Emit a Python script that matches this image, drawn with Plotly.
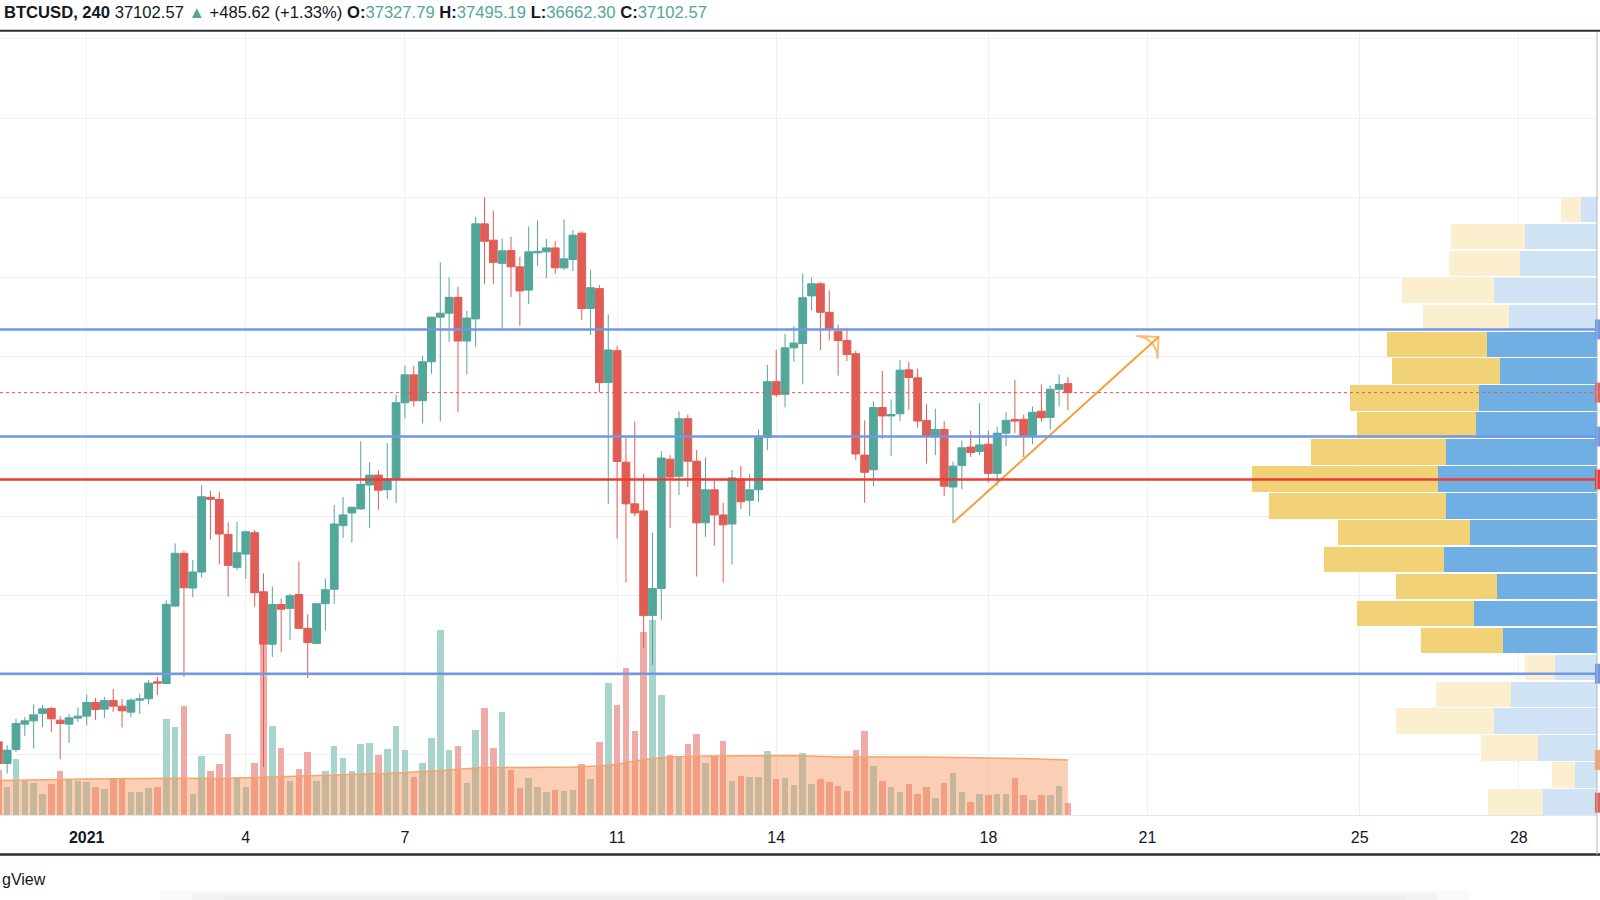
import pandas as pd
import plotly.graph_objects as go

# BTCUSD 4h candles, first bar 2020-12-30 08:00
candle_start = "2020-12-30 08:00"

opens = [28328, 27785, 28137, 28773, 28856, 29042, 29167, 28873, 28773, 28924,
         28974, 29318, 29150, 29369, 29225, 29074, 29376, 29409, 29836, 29796,
         31739, 33064, 32192, 32594, 34472, 34422, 33541, 32712, 33046, 33582,
         32099, 30781, 31779, 31681, 32031, 31181, 30801, 31800, 32161, 33760,
         34080, 34180, 34781, 35030, 34661, 34929, 36848, 37549, 36898, 37878,
         38997, 39098, 39497, 38399, 38954, 41343, 40933, 40350, 40671, 40262,
         39678, 40614, 40639, 40739, 40237, 40450, 41109, 39216, 39716, 37355,
         38157, 35354, 34308, 34130, 31500, 32182, 35430, 35000, 36448, 35380,
         33831, 34661, 34029, 33801, 34929, 34399, 34661, 35978, 37378, 37059,
         38228, 38338, 39533, 39837, 39120, 38640, 38411, 38080, 35533, 35163,
         36727, 36516, 36571, 37675, 37474, 36405, 36020, 36176, 34731, 35274,
         35734, 35623, 35807, 35073, 36083, 36425, 36433, 36020, 36636, 36481,
         37187, 37327.79]
highs = [28421, 28245, 28906, 28956, 29275, 29250, 29208, 28974, 29024, 29193,
         29519, 29434, 29459, 29660, 29409, 29426, 29544, 29879, 29962, 31890,
         33315, 33129, 32896, 34781, 34638, 34613, 33843, 33859, 33632, 33650,
         32561, 32229, 31930, 32051, 32860, 31530, 31820, 32430, 34278, 34479,
         34240, 35880, 35349, 35148, 35829, 37049, 37778, 37778, 38029, 39010,
         40377, 39998, 39759, 39158, 41526, 42009, 41677, 40978, 41021, 40513,
         41277, 41426, 40961, 40908, 41458, 41184, 41154, 40191, 39802, 39065,
         38270, 35978, 36377, 35060, 33579, 35628, 35530, 36629, 36548, 35659,
         35480, 34929, 34329, 35158, 35259, 35060, 36179, 37798, 38177, 38577,
         38778, 40086, 39993, 39882, 39671, 38816, 38733, 38152, 36405, 36885,
         37647, 36931, 37924, 37878, 37712, 36820, 36699, 36387, 35367, 35900,
         36149, 36838, 36149, 36239, 36616, 37418, 36543, 36755, 37308, 37280,
         37557, 37495.19]
lows = [27667, 27533, 28069, 28471, 28162, 28705, 28572, 27893, 28303, 28823,
        28740, 28881, 28924, 29082, 28690, 28941, 29024, 29268, 29502, 29778,
        31722, 29962, 31958, 32461, 33416, 32788, 31973, 32644, 32418, 31722,
        27699, 30462, 30580, 30882, 31150, 29932, 30781, 31131, 31800, 33449,
        33331, 34160, 33700, 34160, 34429, 34329, 36458, 36750, 36330, 37579,
        36380, 38379, 36609, 37559, 38248, 39834, 39829, 38711, 39507, 38778,
        39331, 40287, 39978, 40086, 40179, 40161, 38929, 38552, 37104, 34303,
        33431, 32330, 33999, 30681, 30261, 31400, 33700, 34530, 34728, 32481,
        33479, 33260, 32330, 32780, 34180, 33999, 34359, 35659, 36998, 36729,
        37878, 37308, 39166, 38173, 38411, 37529, 37896, 35412, 34336, 34751,
        35945, 35505, 36387, 36664, 36222, 35319, 35533, 34502, 33831, 34676,
        35485, 35533, 34841, 34769, 35762, 36083, 35485, 35807, 36377, 36176,
        36755, 36662.30]
closes = [27785, 28119, 28790, 28856, 29006, 29157, 28906, 28790, 28931, 28974,
          29318, 29142, 29369, 29225, 29107, 29376, 29409, 29803, 29803, 31782,
          33064, 32199, 32594, 34487, 34422, 33549, 32762, 33079, 33607, 32073,
          30784, 31779, 31661, 32001, 31181, 30821, 31800, 32151, 33801, 34029,
          34220, 34799, 35030, 34650, 34929, 36848, 37549, 36898, 37878, 38997,
          39098, 39497, 38399, 38977, 41343, 40905, 40375, 40664, 40262, 39658,
          40639, 40651, 40739, 40237, 40463, 41056, 39216, 39739, 37355, 38175,
          35374, 34308, 34080, 31500, 32182, 35460, 34980, 36448, 35380, 33831,
          34661, 34029, 33781, 34960, 34359, 34661, 35978, 37378, 37049, 38228,
          38349, 39487, 39837, 39120, 38706, 38411, 38062, 35560, 35100, 36727,
          36516, 36553, 37667, 37481, 36387, 36020, 36176, 34751, 35256, 35716,
          35596, 35789, 35073, 36083, 36405, 36387, 36020, 36609, 36470, 37187,
          37308, 37102.57]
# volume per bar, thousands BTC
volumes = [4.50, 2.77, 5.57, 3.40, 3.23, 2.10, 3.10, 4.43, 3.60, 3.40,
           3.33, 2.77, 2.57, 3.67, 3.60, 2.33, 2.33, 2.67, 2.83, 9.57,
           8.77, 10.93, 2.10, 5.93, 4.43, 5.10, 8.10, 3.77, 2.83, 5.23,
           17.10, 8.94, 6.67, 3.45, 4.64, 6.27, 3.37, 4.44, 6.87, 5.68,
           4.44, 7.15, 7.23, 5.96, 6.59, 8.86, 6.51, 3.77, 5.16, 7.74,
           18.48, 6.47, 6.87, 3.25, 8.46, 10.73, 6.67, 10.33, 4.48, 2.69,
           3.67, 2.85, 2.30, 2.50, 2.38, 2.50, 5.08, 3.57, 7.27, 13.19,
           11.04, 14.70, 8.42, 18.28, 19.55, 12.00, 5.96, 5.88, 7.07, 8.14,
           5.24, 5.88, 7.43, 3.37, 3.89, 3.77, 3.85, 6.43, 3.57, 3.69,
           3.00, 6.17, 3.06, 3.60, 3.35, 2.87, 2.40, 6.46, 8.44, 4.88,
           3.42, 2.76, 2.32, 3.06, 2.07, 2.76, 1.67, 3.17, 4.23, 2.32,
           1.30, 2.07, 2.03, 2.14, 2.14, 3.71, 2.03, 1.52, 2.03, 1.96,
           2.87, 1.23]

# volume moving average, read at a few bars (bar index, thousands BTC)
ma_bar = [0, 10, 20, 25, 30, 35, 40, 45, 50, 55, 60, 65, 68, 70, 72, 74, 76, 80, 90, 95, 105, 112, 116, 121]
ma_vol = [3.45, 3.60, 3.67, 3.65, 3.77, 3.90, 4.05, 4.20, 4.44, 4.76, 4.76, 4.80, 4.90, 5.05, 5.40, 5.65, 5.80,
          5.90, 5.95, 5.80, 5.80, 5.73, 5.65, 5.50]

# visible range volume profile (row price, up volume, down volume)
profile_price = [41700, 41024, 40347, 39671, 38994, 38318, 37641, 36965, 36288, 35612, 34935, 34259,
                 33582, 32906, 32229, 31553, 30876, 30200, 29523, 28847, 28170, 27494, 26817]
profile_up = [2.0, 7.4, 7.1, 9.2, 8.6, 10.0, 10.8, 12.9, 11.9, 13.5, 18.6, 17.7,
              13.2, 12.0, 10.1, 11.7, 8.2, 3.0, 7.5, 9.8, 5.7, 2.3, 5.5]
profile_down = [1.6, 7.2, 7.7, 10.3, 8.8, 11.0, 9.7, 11.8, 12.1, 15.1, 15.9, 15.1,
                12.7, 15.3, 10.0, 12.3, 9.4, 4.2, 8.6, 10.3, 5.9, 2.2, 5.4]

blue_levels = [38690, 36000, 30040]
red_level = 34920
last_price = 37102.57
trend_x = ["2021-01-17 08:00", "2021-01-21 05:00"]
trend_y = [33830, 38500]

date_ticks = ["2021-01-01", "2021-01-04", "2021-01-07", "2021-01-11", "2021-01-14",
              "2021-01-18", "2021-01-21", "2021-01-25", "2021-01-28"]
date_labels = ["<b>2021</b>", "4", "7", "11", "14", "18", "21", "25", "28"]

UP = "#53A69A"
DOWN = "#E05D56"
UP_VOL = "#A7D5CE"
DOWN_VOL = "#F0ABA7"
BLUE = "#6F98E6"
RED = "#EB3B34"
FONT = "Liberation Sans, Arial, sans-serif"

times = pd.date_range(candle_start, periods=len(opens), freq="4h")
vol_colors = [UP_VOL if c >= o else DOWN_VOL for o, c in zip(opens, closes)]

fig = go.Figure()

# soft shadow under the frame
for x0, x1, y0 in [(0.10, 0.92, -0.096), (0.12, 0.90, -0.100), (0.14, 0.88, -0.104)]:
    fig.add_shape(type="rect", xref="paper", yref="paper", x0=x0, x1=x1, y0=-0.12, y1=y0,
                  fillcolor="rgba(0,0,0,0.025)", line=dict(width=0), layer="below")

fig.add_trace(go.Bar(x=times, y=volumes, marker=dict(color=vol_colors, line=dict(width=0)),
                     width=4 * 3600 * 1000 * 0.74, xaxis="x", yaxis="y", hoverinfo="skip"))
fig.add_trace(go.Scatter(x=times[ma_bar], y=ma_vol, mode="lines", line=dict(color="#F4A46F", width=1.5),
                         fill="tozeroy", fillcolor="rgba(242,140,80,0.42)", xaxis="x", yaxis="y",
                         hoverinfo="skip"))

fig.add_trace(go.Candlestick(x=times, open=opens, high=highs, low=lows, close=closes,
                             increasing=dict(line=dict(color=UP, width=1), fillcolor=UP),
                             decreasing=dict(line=dict(color=DOWN, width=1), fillcolor=DOWN),
                             xaxis="x", yaxis="y2", hoverinfo="skip"))

# trend arrow
fig.add_trace(go.Scatter(x=trend_x, y=trend_y, mode="lines+markers",
                         line=dict(color="#F5A03C", width=2),
                         marker=dict(symbol=["circle", "arrow-wide-open"], size=[0, 22], angleref="previous",
                                     color="#F5A03C", line=dict(color="#F5A03C", width=2)),
                         xaxis="x", yaxis="y2", hoverinfo="skip"))

# volume profile: down volume anchored on the right, up volume stacked to its left
in_value_area = [5 <= i <= 16 for i in range(len(profile_price))]
fig.add_trace(go.Bar(y=profile_price, x=profile_down, orientation="h", width=640,
                     marker=dict(color=["#6FAFE3" if v else "#CFE3F5" for v in in_value_area], line=dict(width=0)),
                     xaxis="x2", yaxis="y3", hoverinfo="skip"))
fig.add_trace(go.Bar(y=profile_price, x=profile_up, orientation="h", width=640,
                     marker=dict(color=["#F2D277" if v else "#FBEFD0" for v in in_value_area], line=dict(width=0)),
                     xaxis="x2", yaxis="y3", hoverinfo="skip"))

for lvl in blue_levels:
    fig.add_shape(type="line", xref="paper", x0=0, x1=1, yref="y2", y0=lvl, y1=lvl,
                  line=dict(color=BLUE, width=2.5), layer="above")
fig.add_shape(type="line", xref="paper", x0=0, x1=1, yref="y2", y0=red_level, y1=red_level,
              line=dict(color=RED, width=2.5), layer="above")
fig.add_shape(type="line", xref="paper", x0=0, x1=1, yref="y2", y0=last_price, y1=last_price,
              line=dict(color="#EF5350", width=1, dash="dot"), layer="above")

# cut-off price scale labels at the right edge
for lvl, col in [(blue_levels[0], BLUE), (last_price, "#E0605A"), (blue_levels[1], BLUE),
                 (red_level, RED), (blue_levels[2], BLUE)]:
    fig.add_shape(type="rect", xref="paper", x0=0.9987, x1=1.003, yref="y2", y0=lvl - 250, y1=lvl + 250,
                  fillcolor=col, line=dict(width=0), layer="above")
fig.add_shape(type="rect", xref="paper", x0=0.9987, x1=1.003, yref="y", y0=ma_vol[-1] - 1.0,
              y1=ma_vol[-1] + 1.0, fillcolor="#F4A46F", line=dict(width=0), layer="above")
fig.add_shape(type="rect", xref="paper", x0=0.9987, x1=1.003, yref="y", y0=volumes[-1] - 1.0,
              y1=volumes[-1] + 1.0, fillcolor="#E0605A", line=dict(width=0), layer="above")

# chart frame
fig.add_shape(type="line", xref="paper", yref="paper", x0=0, x1=1.01, y0=1.0015, y1=1.0015,
              line=dict(color="#2A2E39", width=2))
fig.add_shape(type="line", xref="paper", yref="paper", x0=0, x1=1.01, y0=-0.0505, y1=-0.0505,
              line=dict(color="#2A2E39", width=2.5))
fig.add_shape(type="line", xref="paper", yref="paper", x0=1, x1=1, y0=-0.0505, y1=1,
              line=dict(color="#B2B5BE", width=1))

header = ("<b>BTCUSD, 240</b> 37102.57 <span style='color:%s'>▲</span> +485.62 (+1.33%%) "
          "<b>O:</b><span style='color:%s'>37327.79</span> <b>H:</b><span style='color:%s'>37495.19</span> "
          "<b>L:</b><span style='color:%s'>36662.30</span> <b>C:</b><span style='color:%s'>37102.57</span>"
          % (UP, UP, UP, UP, UP))
fig.add_annotation(text=header, xref="paper", yref="paper", x=0.001, y=1.0, yshift=20,
                   xanchor="left", yanchor="middle", showarrow=False,
                   font=dict(family=FONT, size=16.6, color="#131722"))
fig.add_annotation(text="gView", xref="paper", yref="paper", x=0, y=-0.083, xanchor="left",
                   yanchor="middle", showarrow=False, font=dict(family=FONT, size=16, color="#131722"))

fig.update_layout(
    width=1600, height=900,
    margin=dict(l=0, r=3, t=32, b=85, autoexpand=False),
    paper_bgcolor="white", plot_bgcolor="white",
    showlegend=False, barmode="stack", boxgap=0.12, boxgroupgap=0,
    xaxis=dict(type="date", range=["2020-12-30 08:46", "2021-01-29 11:24"],
               tickvals=date_ticks, ticktext=date_labels, showgrid=True, gridcolor="#F0F0F0",
               ticks="outside", ticklen=8, tickcolor="rgba(0,0,0,0)",
               tickfont=dict(family=FONT, size=16, color="#131722"),
               showline=True, linecolor="#E6E6E6", zeroline=False, rangeslider=dict(visible=False),
               fixedrange=True),
    xaxis2=dict(overlaying="x", anchor="y3", range=[159.7, 0], visible=False, fixedrange=True),
    yaxis=dict(range=[0, 78.3], visible=False, fixedrange=True),
    yaxis2=dict(overlaying="y", anchor="x", side="right", range=[26490, 46163], dtick=2000, tick0=0,
                showgrid=True, gridcolor="#F0F0F0", showticklabels=False, zeroline=False, fixedrange=True),
    yaxis3=dict(overlaying="y", anchor="x2", range=[26490, 46163], visible=False, fixedrange=True),
)

fig.write_html("out.html", config={"displayModeBar": False},
               post_script="document.body.style.margin='0';")
